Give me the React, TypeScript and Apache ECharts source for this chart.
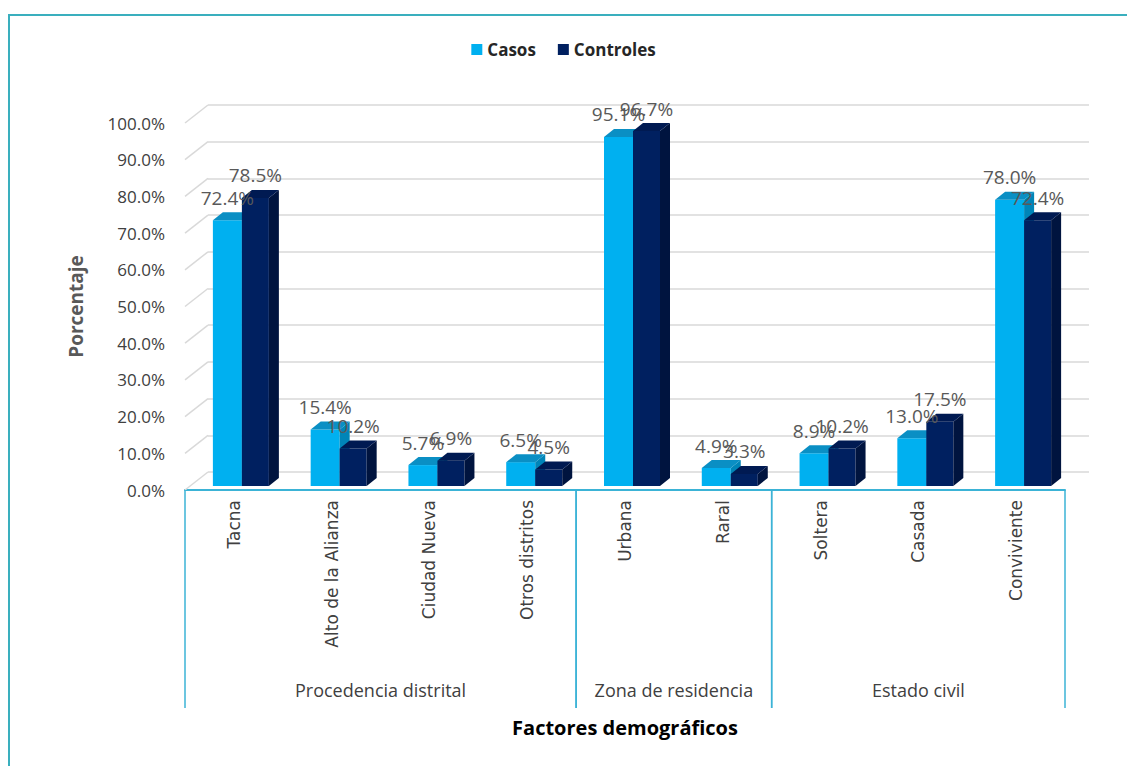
import React, { useEffect, useRef } from 'react';
import * as echarts from 'echarts';

const categories = ['Tacna', 'Alto de la Alianza', 'Ciudad Nueva', 'Otros distritos', 'Urbana', 'Raral', 'Soltera', 'Casada', 'Conviviente'];
const casos = [72.4, 15.4, 5.7, 6.5, 95.1, 4.9, 8.9, 13.0, 78.0];
const controles = [78.5, 10.2, 6.9, 4.5, 96.7, 3.3, 10.2, 17.5, 72.4];
const groupNames = ['Procedencia distrital', 'Zona de residencia', 'Estado civil'];
const groupStarts = [0, 4, 6];
const groupEnds = [3, 5, 8];
const yTicks = [0, 10, 20, 30, 40, 50, 60, 70, 80, 90, 100];

const DX = 10;
const DY = 8;
const LIFT = 4;
const LABEL_FONT = '"Open Sans", sans-serif';

function bar3D(front: string, side: string, top: string, offL: number, offR: number) {
  return (params: any, api: any) => {
    const idx = api.value(0);
    const v = api.value(1);
    const base = api.coord([idx, 0]);
    const tp = api.coord([idx, v]);
    const c = base[0];
    const x0 = c + offL;
    const x1 = c + offR;
    const yb = base[1] - LIFT;
    const yt = tp[1] - LIFT;
    return {
      type: 'group',
      children: [
        { type: 'polygon', shape: { points: [[x0, yt], [x1, yt], [x1, yb], [x0, yb]] }, style: { fill: front } },
        { type: 'polygon', shape: { points: [[x1, yt], [x1 + DX, yt - DY], [x1 + DX, yb - DY], [x1, yb]] }, style: { fill: side } },
        { type: 'polygon', shape: { points: [[x0, yt], [x0 + DX, yt - DY], [x1 + DX, yt - DY], [x1, yt]] }, style: { fill: top } },
        {
          type: 'text', x: (x0 + x1) / 2, y: yt - 13, z2: 100,
          style: { text: v.toFixed(1) + '%', align: 'center', verticalAlign: 'bottom', fill: '#595959', fontSize: 19, fontFamily: LABEL_FONT },
        },
      ],
    };
  };
}

export default function App() {
  const ref = useRef<HTMLDivElement>(null);
  useEffect(() => {
    if (!ref.current) return;
    const chart = echarts.init(ref.current, null, { renderer: 'svg' });
    const option: any = {
      animation: false,
      backgroundColor: '#ffffff',
      graphic: [
        { type: 'rect', shape: { x: 9, y: 15, width: 1140, height: 800 }, style: { fill: 'none', stroke: '#3AAFBE', lineWidth: 2 }, silent: true },
      ],
      legend: {
        data: ['Casos', 'Controles'],
        top: 36,
        left: 'center',
        icon: 'rect',
        itemWidth: 11,
        itemHeight: 11,
        itemGap: 22,
        textStyle: { fontWeight: 'bold', fontSize: 17, color: '#262626', fontFamily: LABEL_FONT },
      },
      grid: [
        { left: 185, top: 123, width: 880, height: 367 },
        { left: 208, top: 105, width: 881, height: 367 },
      ],
      xAxis: [
        {
          type: 'category', gridIndex: 0, data: categories, boundaryGap: true,
          axisLine: { show: true, lineStyle: { color: '#3BB3D6', width: 2 } },
          axisTick: { show: false },
          axisLabel: { rotate: 90, margin: 10, fontFamily: '"DejaVu Sans", sans-serif', fontSize: 17, color: '#404040' },
          name: 'Factores demográficos', nameLocation: 'middle', nameGap: 227,
          nameTextStyle: { fontWeight: 'bold', fontSize: 20, color: '#000', fontFamily: LABEL_FONT },
        },
        { type: 'category', gridIndex: 1, data: categories, show: false },
      ],
      yAxis: [
        {
          type: 'value', gridIndex: 0, min: 0, max: 100, interval: 10,
          axisLine: { show: false }, axisTick: { show: false }, splitLine: { show: false },
          axisLabel: { formatter: (v: number) => v.toFixed(1) + '%', margin: 20, fontSize: 17, color: '#404040', fontFamily: LABEL_FONT },
          name: 'Porcentaje', nameLocation: 'middle', nameGap: 100, nameRotate: 90,
          nameTextStyle: { fontWeight: 'bold', fontSize: 19, color: '#595959', fontFamily: LABEL_FONT },
        },
        {
          type: 'value', gridIndex: 1, min: 0, max: 100, interval: 10,
          axisLine: { show: false }, axisTick: { show: false }, axisLabel: { show: false },
          splitLine: { show: true, lineStyle: { color: '#D9D9D9', width: 1.5 } },
        },
      ],
      series: [
        {
          type: 'custom', name: 'stubs', xAxisIndex: 0, yAxisIndex: 0, silent: true, clip: false,
          data: yTicks.map((v) => [0, v]),
          renderItem: (params: any, api: any) => {
            const x = params.coordSys.x;
            const y = api.coord([0, api.value(1)])[1];
            return { type: 'line', shape: { x1: x, y1: y, x2: x + 23, y2: y - 18 }, style: { stroke: '#D9D9D9', lineWidth: 1.5 } };
          },
        },
        {
          type: 'custom', name: 'Casos', xAxisIndex: 0, yAxisIndex: 0, clip: false,
          itemStyle: { color: '#00B0F0' },
          data: casos.map((v, i) => [i, v]),
          renderItem: bar3D('#00B0F0', '#0085B8', '#0A8FC4', -21, 8),
        },
        {
          type: 'custom', name: 'Controles', xAxisIndex: 0, yAxisIndex: 0, clip: false,
          itemStyle: { color: '#002060' },
          data: controles.map((v, i) => [i, v]),
          renderItem: bar3D('#002060', '#00143F', '#001A52', 8, 35),
        },
        {
          type: 'custom', name: 'groups', xAxisIndex: 0, yAxisIndex: 0, silent: true, clip: false,
          data: groupStarts.map((s, i) => [s, groupEnds[i], i]),
          renderItem: (params: any, api: any) => {
            const band = api.size([1, 0])[0];
            const s = api.value(0);
            const e = api.value(1);
            const gi = api.value(2);
            const y0 = api.coord([s, 0])[1];
            const xs = api.coord([s, 0])[0] - band / 2;
            const xe = api.coord([e, 0])[0] + band / 2;
            return {
              type: 'group',
              children: [
                { type: 'line', shape: { x1: xs, y1: y0, x2: xs, y2: y0 + 218 }, style: { stroke: '#3BB3D6', lineWidth: 1.5 } },
                { type: 'line', shape: { x1: xe, y1: y0, x2: xe, y2: y0 + 218 }, style: { stroke: '#3BB3D6', lineWidth: 1.5 } },
                {
                  type: 'text', x: (xs + xe) / 2, y: y0 + 200,
                  style: { text: groupNames[gi], align: 'center', verticalAlign: 'middle', fill: '#404040', fontSize: 18, fontFamily: LABEL_FONT },
                },
              ],
            };
          },
        },
      ],
    };
    chart.setOption(option);
    return () => chart.dispose();
  }, []);
  return <div ref={ref} style={{ position: 'absolute', left: 0, top: 0, width: 1127, height: 766 }} />;
}
